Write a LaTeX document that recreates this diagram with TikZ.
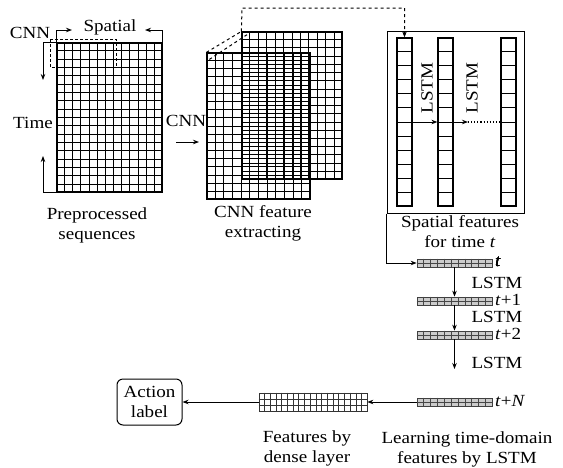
\documentclass[tikz,border=0pt]{standalone}
\usepackage{fontspec}
\setmainfont{Liberation Serif}[FakeStretch=1.12]
\usetikzlibrary{arrows.meta,calc}

% grid lines inside a named rectangle node: [style]{node}{columns}{rows}
\newcommand{\cellgrid}[4][]{%
  \pgfmathtruncatemacro\ncols{#3-1}%
  \pgfmathtruncatemacro\nrows{#4-1}%
  \ifnum#3>1
    \foreach \i in {1,...,\ncols}
      \draw[line width=0.9pt,#1] ($(#2.north west)!\i/#3!(#2.north east)$) -- ($(#2.south west)!\i/#3!(#2.south east)$);
  \fi
  \ifnum#4>1
    \foreach \j in {1,...,\nrows}
      \draw[line width=0.9pt,#1] ($(#2.north west)!\j/#4!(#2.south west)$) -- ($(#2.north east)!\j/#4!(#2.south east)$);
  \fi
}

\tikzset{
  lbl/.style={font=\fontsize{17}{20}\selectfont, inner sep=1pt},
  arr/.style={-{Stealth[length=6pt,width=4.5pt]}, line width=0.9pt},
  cellbox/.style={draw, line width=1.2pt, inner sep=0pt},
  featbar/.style={draw=gray!50!black, fill=gray!40, line width=0.7pt, inner sep=0pt,
    minimum width=75pt, minimum height=8pt},
  densebar/.style={draw=black!80, fill=white, line width=0.7pt, inner sep=0pt,
    minimum width=108pt, minimum height=18pt}
}

\begin{document}
\begin{tikzpicture}[x=1pt,y=-1pt]
\useasboundingbox (0,0) rectangle (563,467);

% preprocessed sequences
\node[cellbox, minimum width=105pt, minimum height=149pt] (pre) at (109.5,117.5) {};
\cellgrid{pre}{13}{18}
\draw[densely dashed, line width=0.9pt] (50,39) rectangle (116,67);
\node[lbl] (cnnA) at (30,33) {CNN};
\node[lbl] (spatial) at (110,27) {Spatial};
\node[lbl] (time) at (33,123) {Time};
\coordinate (sA) at (72,30);
\coordinate (sB) at (145,30);
\coordinate (tA) at (43,80);
\coordinate (tB) at (43,156);
\draw[arr] (pre.north west) |- (sA);
\draw[arr] (pre.north east) |- (sB);
\draw[arr] (pre.north west) -| (tA);
\draw[arr] (pre.south west) -| (tB);
\node[lbl, align=center] at (97,225) {Preprocessed\\sequences};

% CNN feature maps
\node[cellbox, minimum width=100pt, minimum height=147pt] (back) at (292,105.5) {};
\cellgrid{back}{12}{18}
\node[cellbox, minimum width=103pt, minimum height=146pt] (front) at (258.5,126) {};
\cellgrid{front}{12}{18}
\draw[dashed, line width=1pt] (front.north west) -- (back.north west);
\draw[dashed, line width=1pt] ($(front.north west)+(3,7)$) -- ($(back.north west)+(6,3)$);
\node[lbl] (cnnB) at (186,121) {CNN};
\coordinate (cA) at (176,142);
\coordinate (cB) at (199,142);
\draw[arr] (cA) -- (cB);
\node[lbl, align=center] at (263,223) {CNN feature\\extracting};

% spatial features per time step
\node[draw, line width=1pt, inner sep=0pt, minimum width=137pt, minimum height=182pt] (box) at (455.5,122) {};
\node[cellbox, minimum width=15pt, minimum height=168pt] (colA) at (404.5,122) {};
\node[cellbox, minimum width=15pt, minimum height=168pt] (colB) at (445.5,122) {};
\node[cellbox, minimum width=15pt, minimum height=168pt] (colC) at (508.5,122) {};
\cellgrid{colA}{1}{12}
\cellgrid{colB}{1}{12}
\cellgrid{colC}{1}{12}
\coordinate (top) at (242,8);
\draw[arr, dashed, line width=1pt] (back.north west) -- (top) -| (colA.north);
\coordinate (dd) at (468,122);
\draw[arr] (colA.east) -- (colB.west);
\draw[arr] (colB.east) -- (dd);
\draw[dotted, line width=1.1pt] (dd) -- (colC.west);
\node[lbl, rotate=90] at (427,88) {LSTM};
\node[lbl, rotate=90] at (472,88) {LSTM};
\node[lbl, align=center] at (460,232) {Spatial features\\for time \textit{t}};

% time-domain LSTM
\node[featbar] (barA) at (454.5,263) {};
\node[featbar] (barB) at (454.5,301) {};
\node[featbar] (barC) at (454.5,335) {};
\node[featbar] (barD) at (454.5,402) {};
\foreach \b in {barA,barB,barC,barD}
  \cellgrid[gray!55!black, line width=0.5pt]{\b}{11}{2}
\node[lbl, anchor=west] at (494,262) {\textit{t}};
\node[lbl, anchor=west] at (494,300) {\textit{t}+1};
\node[lbl, anchor=west] at (494,334) {\textit{t}+2};
\node[lbl, anchor=west] at (494,401) {\textit{t}+\textit{N}};
\node[lbl] at (497,283) {LSTM};
\node[lbl] at (497,317) {LSTM};
\node[lbl] at (497,363) {LSTM};
\coordinate (lt) at (454.5,369);
\draw[arr] (box.south west) |- (barA.west);
\draw[arr] (barA.south) -- (barB.north);
\draw[arr] (barB.south) -- (barC.north);
\draw[arr] (barC.south) -- (lt);
\node[lbl, align=center] at (467,449) {Learning time-domain\\features by LSTM};

% dense layer and output
\node[densebar] (dense) at (313,402) {};
\cellgrid[black!80, line width=0.5pt]{dense}{19}{3}
\node[lbl, draw, rounded corners=6pt, line width=1pt, align=center, minimum width=65pt, minimum height=46pt] (act) at (149.5,402) {Action\\label};
\draw[arr] (barD.west) -- (dense.east);
\draw[arr] (dense.west) -- (act.east);
\node[lbl, align=center] at (307,448) {Features by\\dense layer};
\end{tikzpicture}
\end{document}
